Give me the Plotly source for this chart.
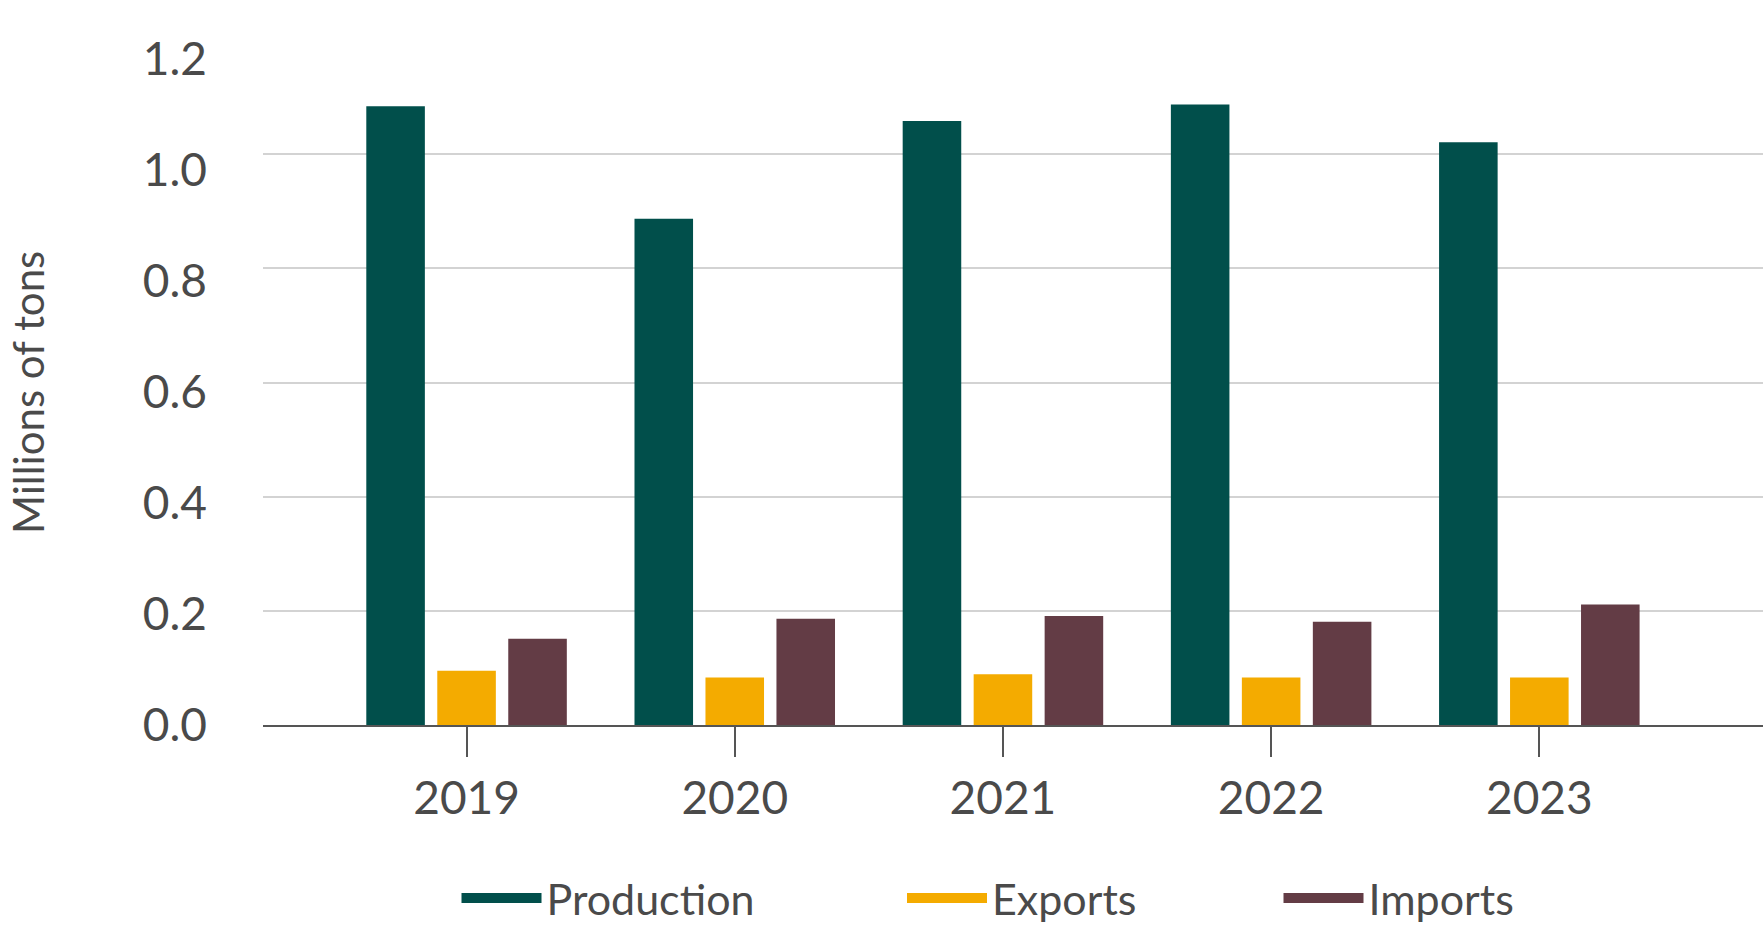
import plotly.graph_objects as go

years = ["2019", "2020", "2021", "2022", "2023"]
production = [1.084, 0.887, 1.058, 1.087, 1.021]
exports = [0.095, 0.083, 0.089, 0.083, 0.083]
imports = [0.151, 0.186, 0.191, 0.181, 0.211]
y_ticks = [0, 0.2, 0.4, 0.6, 0.8, 1.0, 1.2]

series_names = ["Production", "Exports", "Imports"]
series_colors = ["#014F4B", "#F4AB00", "#633C45"]
series_values = [production, exports, imports]
legend_ids = ["legend", "legend2", "legend3"]
legend_x = [0.129, 0.426, 0.677]

FONT = "Lato, 'Open Sans', sans-serif"
TXT = "#4a4a4a"

fig = go.Figure()
for name, color, vals in zip(series_names, series_colors, series_values):
    fig.add_trace(go.Bar(
        x=years, y=vals, name=name, marker=dict(color=color, line=dict(width=0)),
        showlegend=False,
    ))
for name, color, lid in zip(series_names, series_colors, legend_ids):
    fig.add_trace(go.Scatter(
        x=[None], y=[None], mode="lines", name=name,
        line=dict(color=color, width=12), showlegend=True, legend=lid,
    ))
# carrier for the tick-label axis
fig.add_trace(go.Scatter(x=[None], y=[None], yaxis="y2", showlegend=False, hoverinfo="skip"))

leg_common = dict(orientation="h", yanchor="middle", y=-0.2526, xanchor="left",
                  font=dict(family=FONT, size=43, color=TXT), bgcolor="rgba(0,0,0,0)",
                  itemwidth=80)
layout_legends = {}
for lid, lx in zip(legend_ids, legend_x):
    layout_legends[lid] = dict(leg_common, x=lx)

fig.update_layout(
    width=1763, height=931,
    margin=dict(l=263, r=0, t=40, b=206, autoexpand=False),
    paper_bgcolor="white", plot_bgcolor="white",
    barmode="group", bargap=0.206, bargroupgap=0.175,
    font=dict(family=FONT, color=TXT),
    **layout_legends,
)
fig.update_xaxes(
    type="category", range=[-0.759, 4.834],
    showgrid=False, showline=True, linecolor="#555555", linewidth=2,
    ticks="outside", ticklen=30, tickwidth=1.5, tickcolor="#555555",
    tickfont=dict(family=FONT, size=46, color=TXT), ticklabelstandoff=2,
    zeroline=False,
)
fig.update_layout(
    yaxis=dict(
        range=[0, 1.2], tickvals=y_ticks, showticklabels=False,
        showgrid=True, gridcolor="#d3d3d3", gridwidth=2,
        zeroline=False, showline=False, ticks="",
    ),
    yaxis2=dict(
        overlaying="y", side="left", range=[0, 1.2335], tickvals=y_ticks,
        tickformat=".1f", showgrid=False, zeroline=False, showline=False, ticks="",
        tickfont=dict(family=FONT, size=46, color=TXT), ticklabelstandoff=55,
    ),
    annotations=[dict(
        text="Millions of tons", textangle=-90, xref="paper", yref="paper",
        x=-0.157, y=0.5, xanchor="center", yanchor="middle", yshift=-10,
        showarrow=False, font=dict(family=FONT, size=42, color=TXT),
    )],
)
fig.write_html("out.html", config={"displayModeBar": False},
               post_script="document.body.style.margin='0';document.body.style.overflow='hidden';")
